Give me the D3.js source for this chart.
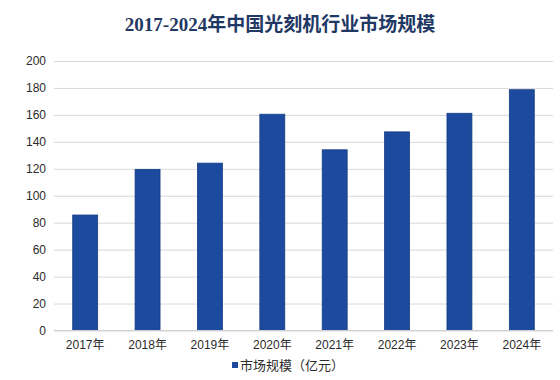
<!DOCTYPE html>
<html><head><meta charset="utf-8">
<script src="https://cdn.jsdelivr.net/npm/d3@7/dist/d3.min.js"></script>
<style>
html,body{margin:0;padding:0;background:#fff;}
svg{display:block;}
</style></head>
<body><svg id="c" width="560" height="380"></svg>
<script>
const categories = ["2017年","2018年","2019年","2020年","2021年","2022年","2023年","2024年"];
const values = [85.7, 119.6, 124.2, 160.5, 134.1, 147.4, 161.2, 178.7];
const yTicks = [0,20,40,60,80,100,120,140,160,180,200];
const title = "2017-2024年中国光刻机行业市场规模";
const seriesName = "市场规模（亿元）";

const svg = d3.select("#c");
const margin = {left:54, right:7, top:61, bottom:50};
const W = 560, H = 380;
const x = d3.scaleBand().domain(categories).range([margin.left, W - margin.right]).paddingInner(0.6).paddingOuter(0.3);
const y = d3.scaleLinear().domain([0,200]).range([330.5, 61]);

svg.append("text").attr("x",280).attr("y",31).attr("text-anchor","middle")
  .attr("font-family","'Liberation Serif','DejaVu Serif','Noto Sans CJK SC',serif")
  .attr("font-weight","bold").attr("font-size",19).attr("fill","#1f3864").text(title);

// grid
const yAxis = d3.axisLeft(y).tickValues(yTicks).tickSize(-(W - margin.right - margin.left)).tickPadding(8);
const gy = svg.append("g").attr("transform",`translate(${margin.left},0)`).call(yAxis);
gy.select(".domain").remove();
gy.selectAll(".tick line").attr("stroke","#d9d9d9").attr("stroke-width",1);
gy.selectAll(".tick text").attr("font-family","'Liberation Sans',Arial,sans-serif").attr("font-size",12).attr("fill","#2b2b2b");

svg.append("g").selectAll("rect").data(values).join("rect")
  .attr("x",(d,i)=>x(categories[i])).attr("width",x.bandwidth())
  .attr("y",d=>y(d)).attr("height",d=>y(0)-y(d))
  .attr("fill","#1c4a9e").attr("stroke","#163c84").attr("stroke-width",0.8);

// baseline
svg.append("line").attr("x1",margin.left).attr("x2",W-margin.right).attr("y1",y(0)).attr("y2",y(0)).attr("stroke","#d0d0d0");

const xAxis = d3.axisBottom(x).tickSize(0).tickPadding(10);
const gx = svg.append("g").attr("transform",`translate(0,${y(0)})`).call(xAxis);
gx.select(".domain").remove();
gx.selectAll(".tick text").attr("font-family","'Liberation Sans','Noto Sans CJK SC',Arial,sans-serif").attr("font-size",12).attr("fill","#2b2b2b");

// legend
const lg = svg.append("g").attr("transform","translate(232,362)");
lg.append("rect").attr("x",0).attr("y",0).attr("width",6).attr("height",6).attr("fill","#1c4a9e");
lg.append("text").attr("x",8).attr("y",7.5).attr("font-family","'Noto Sans CJK SC',sans-serif").attr("font-size",13).attr("fill","#2b2b2b").text(seriesName);
</script></body></html>
